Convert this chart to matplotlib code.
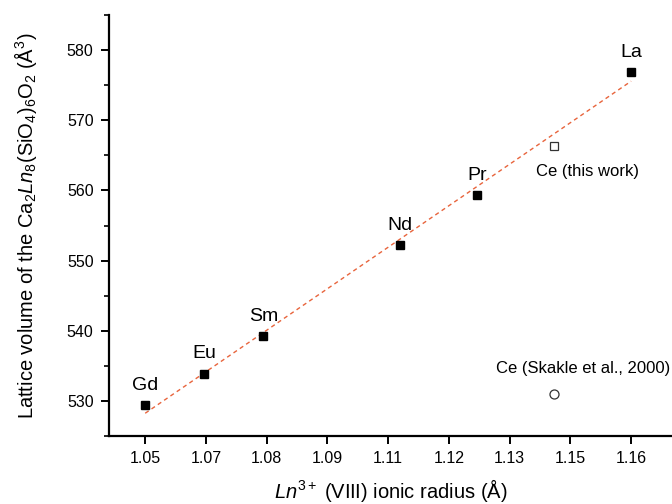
import numpy as np
import matplotlib
matplotlib.use("Agg")
import matplotlib.pyplot as plt
from matplotlib.ticker import MultipleLocator, FixedLocator, FormatStrFormatter

plt.rcParams['font.family'] = ['Liberation Sans', 'DejaVu Sans']
plt.rcParams['mathtext.fontset'] = 'custom'
plt.rcParams['mathtext.rm'] = 'Liberation Sans'
plt.rcParams['mathtext.it'] = 'Liberation Sans:italic'
plt.rcParams['mathtext.bf'] = 'Liberation Sans:bold'

# Ln3+ (VIII) ionic radii and lattice volumes
elements = ["Gd", "Eu", "Sm", "Nd", "Pr", "La"]
radius = [1.053, 1.066, 1.079, 1.109, 1.126, 1.160]
volume = [529.4, 533.9, 539.3, 552.2, 559.4, 576.9]

ce_radius = 1.143
ce_this_work = 566.3
ce_skakle = 531.0

# fit through the filled points
slope, icpt = np.polyfit(radius, volume, 1)
fit_x = np.array([radius[0], radius[-1]])
fit_y = slope * fit_x + icpt

fig = plt.figure(figsize=(6.72, 5.04), dpi=100)
ax = fig.add_axes([0.162, 0.135, 0.838, 0.835])

ax.plot(fit_x, fit_y, linestyle=(0, (3, 2.5)), color="#e8643c", lw=1.0, zorder=1)
ax.plot(radius, volume, "s", color="black", ms=6, zorder=3)
ax.plot([ce_radius], [ce_this_work], "s", mfc="white", mec="#333333", mew=0.9, ms=6, zorder=3)
ax.plot([ce_radius], [ce_skakle], "o", mfc="white", mec="#333333", mew=0.9, ms=6.5, zorder=3)

for el, x, y in zip(elements, radius, volume):
    ax.annotate(el, (x, y), xytext=(0, 8), textcoords="offset points",
                ha="center", va="bottom", fontsize=14)

ax.annotate("Ce (this work)", (ce_radius, ce_this_work), xytext=(24, -13),
            textcoords="offset points", ha="center", va="top", fontsize=12)
ax.annotate("Ce (Skakle et al., 2000)", (ce_radius, ce_skakle), xytext=(21, 13),
            textcoords="offset points", ha="center", va="bottom", fontsize=12)

ax.set_xlim(1.045, 1.169)
ax.set_ylim(525, 585)

ax.xaxis.set_major_locator(FixedLocator(np.linspace(radius[0], radius[-1], 9)))
ax.xaxis.set_major_formatter(FormatStrFormatter("%.2f"))
ax.yaxis.set_major_locator(MultipleLocator(10))
ax.yaxis.set_minor_locator(MultipleLocator(5))

for side in ["top", "right"]:
    ax.spines[side].set_visible(False)
for side in ["left", "bottom"]:
    ax.spines[side].set_linewidth(1.6)

ax.tick_params(axis="both", which="major", direction="out", length=6, width=1.4, labelsize=11.5, pad=5)
ax.tick_params(axis="y", which="minor", direction="out", length=3.5, width=1.2)

ax.set_xlabel(r"$\it{Ln}^{3+}$ (VIII) ionic radius (Å)", fontsize=14.5, labelpad=8)
ax.set_ylabel(r"Lattice volume of the Ca$_2$$\it{Ln}_8$(SiO$_4$)$_6$O$_2$ (Å$^3$)", fontsize=14.5, labelpad=20)

fig.savefig("out.png", dpi=100)
